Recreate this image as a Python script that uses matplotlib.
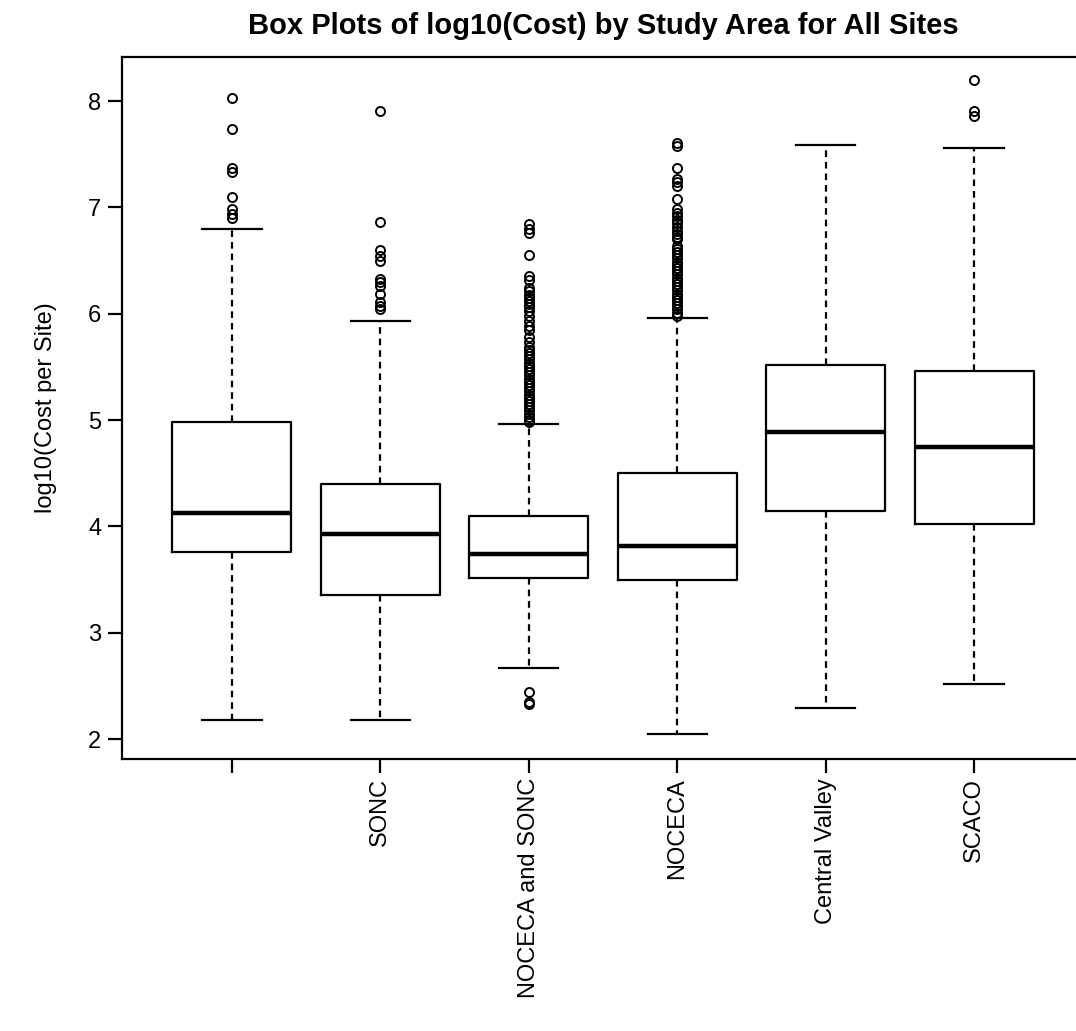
import matplotlib
matplotlib.use("Agg")
from matplotlib import pyplot as plt

plt.rcParams['font.family'] = ['Liberation Sans', 'DejaVu Sans']

# study areas (first group has no name in the source)
areas = ['', 'SONC', 'NOCECA and SONC', 'NOCECA', 'Central Valley', 'SCACO']

# box statistics
whislo = [2.18, 2.18, 2.67, 2.05, 2.29, 2.52]
q1 = [3.76, 3.35, 3.51, 3.50, 4.14, 4.02]
med = [4.13, 3.93, 3.74, 3.82, 4.89, 4.75]
q3 = [4.98, 4.40, 4.10, 4.50, 5.52, 5.46]
whishi = [6.80, 5.93, 4.96, 5.96, 7.59, 7.56]

# outliers
fliers_1 = [8.03, 7.74, 7.37, 7.33, 7.10, 6.98, 6.94, 6.90]
fliers_sonc = [7.91, 6.86, 6.60, 6.54, 6.50, 6.33, 6.30, 6.26, 6.19, 6.11,
               6.07, 6.04]
fliers_both = [6.84, 6.80, 6.76, 6.55, 6.35, 6.32, 6.24, 6.21, 6.18, 6.15,
               6.12, 6.09, 6.06, 6.03, 5.98, 5.93, 5.88, 5.85, 5.78, 5.73,
               5.69, 5.66, 5.63, 5.60, 5.57, 5.54, 5.51, 5.48, 5.45, 5.42,
               5.39, 5.36, 5.33, 5.30, 5.27, 5.24, 5.21, 5.18, 5.15, 5.12,
               5.09, 5.06, 5.03, 5.00, 4.98,
               2.44, 2.35, 2.33]
fliers_noceca = [7.61, 7.58, 7.37, 7.27, 7.24, 7.20, 7.08, 6.98, 6.95, 6.92,
                 6.88, 6.85, 6.82, 6.78, 6.75, 6.72, 6.70, 6.64, 6.61, 6.58,
                 6.55, 6.52, 6.49, 6.46, 6.43, 6.40, 6.37, 6.34, 6.31, 6.28,
                 6.25, 6.22, 6.19, 6.16, 6.13, 6.10, 6.07, 6.04, 6.01, 5.98]
fliers_cv = []
fliers_scaco = [8.20, 7.91, 7.86]
fliers = [fliers_1, fliers_sonc, fliers_both, fliers_noceca, fliers_cv, fliers_scaco]

stats = []
for i in range(len(areas)):
    stats.append({'whislo': whislo[i], 'q1': q1[i], 'med': med[i],
                  'q3': q3[i], 'whishi': whishi[i], 'fliers': fliers[i],
                  'label': areas[i]})

fig = plt.figure(figsize=(10.76, 10.31), dpi=100)
# right edge of the plot frame falls outside the picture, as in the original
ax = fig.add_axes([122/1076, 1 - 758.7/1031, (1084 - 122)/1076, (758.7 - 56.7)/1031])

pos = list(range(1, len(areas) + 1))
ax.bxp(stats, positions=pos, widths=0.8, capwidths=0.4, patch_artist=False,
       boxprops=dict(color='black', linewidth=1.6),
       whiskerprops=dict(color='black', linewidth=1.6, linestyle=(0, (3, 2.2))),
       capprops=dict(color='black', linewidth=1.6),
       medianprops=dict(color='black', linewidth=3.2),
       flierprops=dict(marker='o', markerfacecolor='none', markeredgecolor='black',
                       markersize=6.5, markeredgewidth=1.4))

ax.set_xlim(0.26, 6.74)
ax.set_ylim(1.815, 8.417)
ax.set_yticks([2, 3, 4, 5, 6, 7, 8])
ax.set_xticks(pos)
ax.set_xticklabels(areas, rotation=90, fontsize=17)
ax.tick_params(axis='y', labelsize=17, length=10, width=1.6, pad=5)
ax.tick_params(axis='x', length=10, width=1.6, pad=4)
for s in ax.spines.values():
    s.set_linewidth(1.6)

ax.set_ylabel('log10(Cost per Site)', fontsize=17, labelpad=22)
fig.text(603/1076, 1 - 26/1031, 'Box Plots of log10(Cost) by Study Area for All Sites',
         ha='center', va='center', fontsize=21, fontweight='bold')

fig.savefig('out.png', dpi=100)
